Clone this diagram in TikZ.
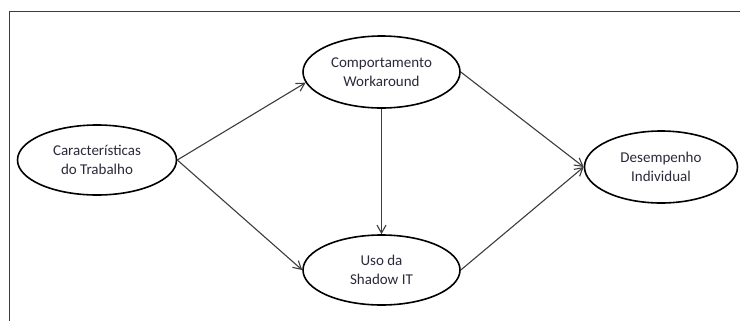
\documentclass[tikz,border=0pt]{standalone}
\usepackage{fontspec}
\setmainfont{Carlito}
\usetikzlibrary{shapes.geometric,arrows.meta}

\definecolor{labeltext}{RGB}{45,40,58}
\definecolor{linkgray}{RGB}{60,60,60}
\definecolor{framegray}{RGB}{60,60,60}

\tikzset{
  construct/.style={ellipse, draw=black, line width=1.6bp, inner sep=0pt,
    align=center, text=labeltext, font=\fontsize{15bp}{19bp}\selectfont},
  link/.style={draw=linkgray, line width=1.1bp,
    -{Straight Barb[length=8bp,width=9bp,line width=1.1bp]}},
  frameline/.style={draw=framegray, line width=1.6bp}
}

\begin{document}
\begin{tikzpicture}[x=1bp,y=-1bp]
  \useasboundingbox (0,0) rectangle (740,321);

  % open frame: top and left edges only
  \coordinate (ftr) at (740,11.5);
  \coordinate (ftl) at (9.5,11.5);
  \coordinate (fbl) at (9.5,321);
  \draw[frameline] (ftr) -- (ftl) -- (fbl);

  % constructs
  \node[construct, minimum width=159bp, minimum height=70bp] (car) at (97,160)
    {Características\\do Trabalho};
  \node[construct, minimum width=157bp, minimum height=72bp] (com) at (381.5,72)
    {Comportamento\\Workaround};
  \node[construct, minimum width=157bp, minimum height=70bp] (uso) at (381.5,270)
    {Uso da\\Shadow IT};
  \node[construct, minimum width=153bp, minimum height=72bp] (des) at (661,167)
    {Desempenho\\Individual};

  % hypothesised paths
  \draw[link] (car.east) -- (com.188);
  \draw[link] (car.east) -- (uso.west);
  \draw[link] (com.south) -- (uso.north);
  \draw[link] (com.east) -- (des.west);
  \draw[link] (uso.east) -- (des.west);
\end{tikzpicture}
\end{document}
